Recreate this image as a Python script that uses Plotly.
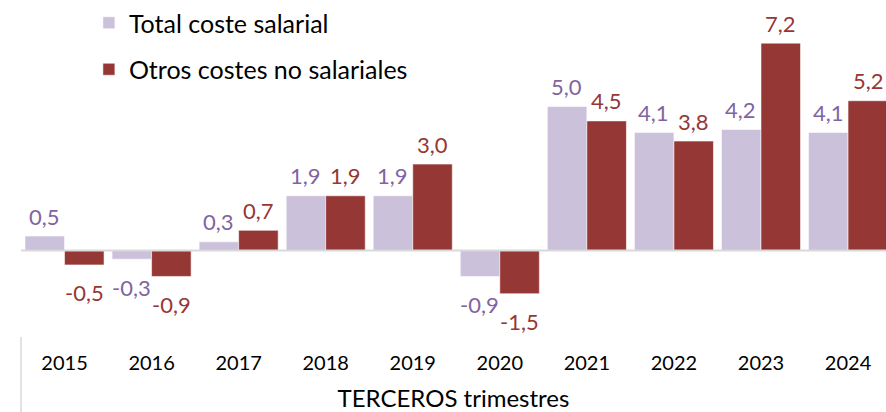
import plotly.graph_objects as go

# Annual change (%) of labour costs, third quarters
years = ["2015", "2016", "2017", "2018", "2019", "2020", "2021", "2022", "2023", "2024"]
total_coste = [0.5, -0.3, 0.3, 1.9, 1.9, -0.9, 5.0, 4.1, 4.2, 4.1]
otros_costes = [-0.5, -0.9, 0.7, 1.9, 3.0, -1.5, 4.5, 3.8, 7.2, 5.2]

series_names = ["Total coste salarial", "Otros costes no salariales"]
bar_colors = ["#CCC1DA", "#953735"]
label_colors = ["#8064A2", "#953735"]

FONT = "Lato"

fig = go.Figure()
for name, vals, col, grp in zip(series_names, [total_coste, otros_costes], bar_colors, ["a", "b"]):
    fig.add_trace(go.Bar(
        x=years, y=vals, name=name, legendgroup=grp,
        marker=dict(color=col, line=dict(color="rgba(255,255,255,0.55)", width=1)),
    ))


def fmt(v):
    return f"{v:.1f}".replace(".", ",")


# value labels above positive bars and below negative ones
# (x given as category index so year strings are not read as numbers)
annotations = []
for vals, lcol, xs in zip([total_coste, otros_costes], label_colors, [-20, 20]):
    for i, v in enumerate(vals):
        annotations.append(dict(
            x=i, y=v, xref="x", yref="y", text=fmt(v), showarrow=False,
            xshift=xs, yshift=20 if v >= 0 else -28, yanchor="middle",
            font=dict(family=FONT, size=22, color=lcol),
        ))

fig.update_layout(
    width=886, height=412,
    margin=dict(l=21, r=0, t=0, b=67),
    paper_bgcolor="white", plot_bgcolor="white",
    barmode="group", bargap=0.092, bargroupgap=0,
    font=dict(family=FONT, color="#000000"),
    showlegend=True,
    legend=dict(
        x=0.0785, y=1.0, xanchor="left", yanchor="top",
        traceorder="grouped", tracegroupgap=11,
        font=dict(family=FONT, size=25, color="#000000"),
        bgcolor="rgba(0,0,0,0)",
    ),
    annotations=annotations,
    shapes=[
        # zero line drawn over the bars
        dict(type="line", xref="paper", yref="y", x0=0, x1=1, y0=0, y1=0,
             line=dict(color="#D9D9D9", width=2), layer="above"),
        # left edge marker of the category label band
        dict(type="line", xref="paper", yref="paper", x0=0, x1=0,
             y0=(345 - 337) / 345, y1=(345 - 412) / 345,
             line=dict(color="#D9D9D9", width=1.5)),
    ],
)

fig.update_xaxes(
    type="category",
    range=[-0.5, 9.436], showgrid=False, zeroline=False, showline=False,
    ticks="", tickfont=dict(family=FONT, size=20, color="#000000"),
    ticklabelstandoff=4,
    title=dict(text="TERCEROS trimestres", font=dict(family=FONT, size=24, color="#000000"),
               standoff=19),
)
fig.update_yaxes(
    range=[-3.281, 8.698], showgrid=False, zeroline=False, showline=False,
    showticklabels=False, ticks="",
)

fig.write_html("out.html")
